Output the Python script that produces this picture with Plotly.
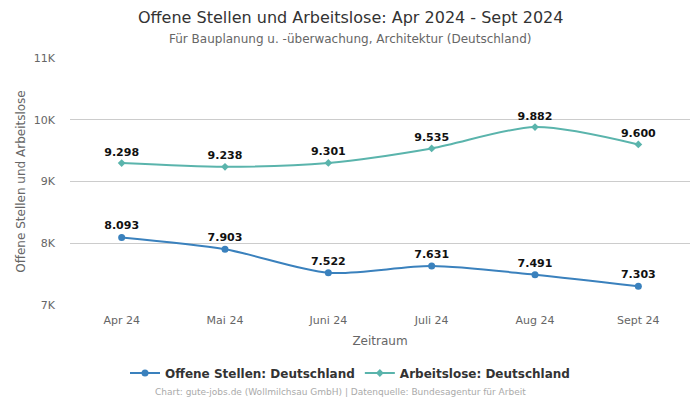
import plotly.graph_objects as go

categories = ["Apr 24", "Mai 24", "Juni 24", "Juli 24", "Aug 24", "Sept 24"]
offene_stellen = [8093, 7903, 7522, 7631, 7491, 7303]
arbeitslose = [9298, 9238, 9301, 9535, 9882, 9600]
tick_vals = [7000, 8000, 9000, 10000, 11000]
tick_text = ["7K", "8K", "9K", "10K", "11K"]

def fmt(v):
    return f"{v:,}".replace(",", ".")

FONT = "DejaVu Sans"
W, H = 700, 400
ML, MR, MT, MB = 70, 10, 58, 95
PW, PH = W - ML - MR, H - MT - MB

def px_to_paper_x(px):
    return (px - ML) / PW

def px_to_paper_y(py):
    return 1 - (py - MT) / PH

fig = go.Figure()
fig.add_trace(go.Scatter(
    x=categories, y=offene_stellen, name="Offene Stellen: Deutschland",
    mode="lines+markers+text", line=dict(color="#3a81bd", width=2, shape="spline", smoothing=0.8),
    marker=dict(symbol="circle", size=7, color="#3a81bd"),
    text=[fmt(v) for v in offene_stellen], textposition="top center",
    textfont=dict(family=FONT, size=11, color="#111111", weight="bold"),
))
fig.add_trace(go.Scatter(
    x=categories, y=arbeitslose, name="Arbeitslose: Deutschland",
    mode="lines+markers+text", line=dict(color="#5ab4ac", width=2, shape="spline", smoothing=0.8),
    marker=dict(symbol="diamond", size=6, color="#5ab4ac"),
    text=[fmt(v) for v in arbeitslose], textposition="top center",
    textfont=dict(family=FONT, size=11, color="#111111", weight="bold"),
))

fig.update_layout(
    width=W, height=H,
    paper_bgcolor="white", plot_bgcolor="white",
    font=dict(family=FONT, color="#555555"),
    margin=dict(l=ML, r=MR, t=MT, b=MB),
    xaxis=dict(
        range=[-0.5, 5.5], showgrid=False, showline=False, zeroline=False,
        tickfont=dict(family=FONT, size=11, color="#666666"),
        ticklabelstandoff=7,
        title=dict(text="Zeitraum", font=dict(family=FONT, size=12, color="#666666"), standoff=10),
        ticks="", fixedrange=True,
    ),
    yaxis=dict(
        range=[7000, 11000], tickvals=tick_vals, ticktext=tick_text,
        showgrid=True, gridcolor="#cccccc", gridwidth=1, zeroline=False,
        tickfont=dict(family=FONT, size=11, color="#666666"),
        ticklabelstandoff=14,
        title=dict(text="Offene Stellen und Arbeitslose", font=dict(family=FONT, size=12, color="#666666"), standoff=5),
        ticks="", fixedrange=True,
    ),
    legend=dict(
        orientation="h", xref="container", x=0.5, xanchor="center",
        yref="container", y=1 - 373 / H, yanchor="middle",
        font=dict(family=FONT, size=12, color="#333333", weight="bold"),
        itemwidth=30,
    ),
    showlegend=True,
)
fig.add_annotation(
    text="Offene Stellen und Arbeitslose: Apr 2024 - Sept 2024",
    xref="paper", yref="paper", x=px_to_paper_x(350), y=px_to_paper_y(17),
    xanchor="center", yanchor="middle", showarrow=False,
    font=dict(family=FONT, size=16, color="#333333"),
)
fig.add_annotation(
    text="Für Bauplanung u. -überwachung, Architektur (Deutschland)",
    xref="paper", yref="paper", x=px_to_paper_x(350), y=px_to_paper_y(39),
    xanchor="center", yanchor="middle", showarrow=False,
    font=dict(family=FONT, size=12, color="#666666"),
)
fig.add_annotation(
    text="Chart: gute-jobs.de (Wollmilchsau GmbH) | Datenquelle: Bundesagentur für Arbeit",
    xref="paper", yref="paper", x=px_to_paper_x(340), y=px_to_paper_y(392),
    xanchor="center", yanchor="middle", showarrow=False,
    font=dict(family=FONT, size=9, color="#aaaaaa"),
)
fig.write_html("out.html", config={"displayModeBar": False},
               post_script="document.body.style.margin='0';")
